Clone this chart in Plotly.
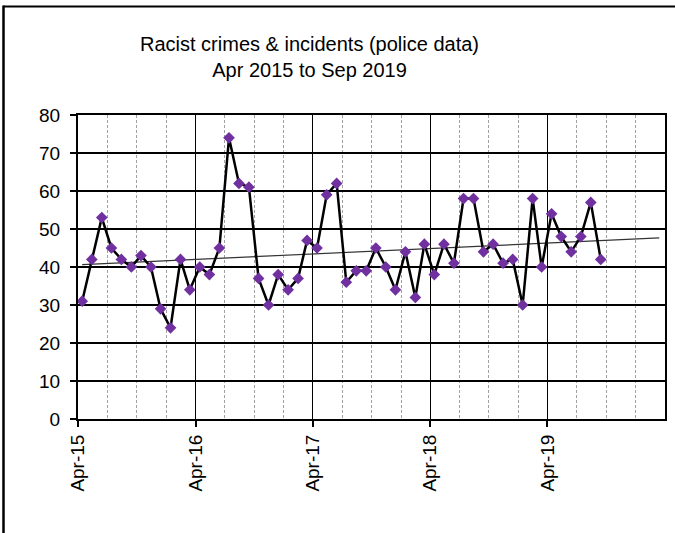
import numpy as np
import pandas as pd
import plotly.graph_objects as go

# ---- data (monthly, Apr 2015 .. Sep 2019) ----
start_month = "2015-04-01"
values = [31, 42, 53, 45, 42, 40, 43, 40, 29, 24, 42, 34,
          40, 38, 45, 74, 62, 61, 37, 30, 38, 34, 37, 47,
          45, 59, 62, 36, 39, 39, 45, 40, 34, 44, 32, 46,
          38, 46, 41, 58, 58, 44, 46, 41, 42, 30, 58, 40,
          54, 48, 44, 48, 57, 42]
trend_forward = 6  # trendline forecast periods
title_line1 = "Racist crimes & incidents (police data)"
title_line2 = "Apr 2015 to Sep 2019"
x_tick_dates = ["2015-04-01", "2016-04-01", "2017-04-01", "2018-04-01", "2019-04-01"]
x_tick_labels = ["Apr-15", "Apr-16", "Apr-17", "Apr-18", "Apr-19"]
y_ticks = [0, 10, 20, 30, 40, 50, 60, 70, 80]

n = len(values)
months = pd.date_range(start=start_month, periods=n + trend_forward, freq="MS")
x_data = months[:n] + pd.Timedelta(days=13)
x_trend = months + pd.Timedelta(days=13)
idx = np.arange(n)
slope, intercept = np.polyfit(idx, values, 1)
trend_vals = intercept + slope * np.arange(n + trend_forward)

FONT = "Arial, Liberation Sans, sans-serif"

fig = go.Figure()
fig.add_trace(go.Scatter(x=x_trend, y=trend_vals, mode="lines",
                         line=dict(color="#333333", width=1.2),
                         hoverinfo="skip", showlegend=False))
fig.add_trace(go.Scatter(x=x_data, y=values, mode="lines+markers",
                         line=dict(color="black", width=2.5),
                         marker=dict(symbol="diamond", size=9, color="#7030A0",
                                     line=dict(width=0)),
                         showlegend=False))

fig.update_layout(
    width=675, height=533,
    margin=dict(l=78, r=10, t=115, b=114),
    paper_bgcolor="white", plot_bgcolor="white",
    font=dict(family=FONT, size=19, color="black"),
    xaxis=dict(
        type="date", automargin=False,
        range=["2015-04-01", "2020-04-01"],
        tickvals=x_tick_dates, ticktext=x_tick_labels, tickangle=-90,
        ticks="outside", ticklen=6, tickcolor="black", tickwidth=1.5,
        showgrid=True, gridcolor="black", gridwidth=1,
        minor=dict(dtick="M3", tick0="2015-04-01", showgrid=True,
                   gridcolor="#a0a0a0", griddash="3px,2px", gridwidth=1),
        showline=True, linecolor="black", linewidth=2, mirror=True,
        zeroline=False,
        tickfont=dict(size=19),
    ),
    yaxis=dict(
        range=[0, 80], tickvals=y_ticks, automargin=False,
        ticks="outside", ticklen=6, tickcolor="black", tickwidth=1.5,
        showgrid=True, gridcolor="black", gridwidth=1.8,
        showline=True, linecolor="black", linewidth=2, mirror=True,
        zeroline=False, ticklabelstandoff=6,
        tickfont=dict(size=19),
    ),
    annotations=[
        dict(text=title_line1 + "<br>" + title_line2, xref="paper", yref="paper",
             x=(309 - 78) / 587, y=(419 - 57) / 304, xanchor="center", yanchor="middle",
             showarrow=False, font=dict(size=20)),
    ],
    shapes=[
        dict(type="line", xref="paper", yref="paper",
             x0=(3.5 - 78) / 587, x1=(3.5 - 78) / 587,
             y0=(419 - 540) / 304, y1=(419 - 5.5) / 304,
             line=dict(color="black", width=2.5)),
        dict(type="line", xref="paper", yref="paper",
             x0=(3.5 - 78) / 587, x1=(680 - 78) / 587,
             y0=(419 - 6.5) / 304, y1=(419 - 6.5) / 304,
             line=dict(color="black", width=2)),
    ],
)

fig.write_html("out.html", config={"displayModeBar": False})
